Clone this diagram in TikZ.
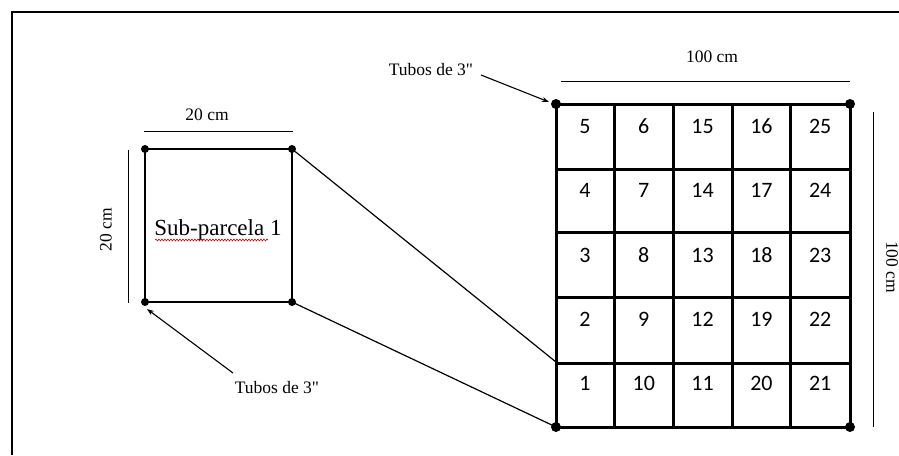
\documentclass[tikz,border=0pt]{standalone}
\usepackage{fontspec}
\setmainfont{Liberation Serif}[Ligatures=TeXOff]
\newfontfamily\cellfont{Carlito}
\usetikzlibrary{arrows.meta,decorations.pathmorphing}
\newcommand\inch{\symbol{34}}
\begin{document}
\begin{tikzpicture}[x=1pt,y=-1pt,
  frame/.style={line width=1.6pt},
  plot/.style={line width=2.8pt},
  gridline/.style={line width=3pt},
  link/.style={line width=1.2pt},
  dimline/.style={line width=0.9pt},
  pointer/.style={line width=1.1pt,-{Stealth[length=7pt,width=5pt]}},
  lbl/.style={font=\fontsize{17.5}{20}\selectfont,inner sep=0pt},
  cellnum/.style={font=\cellfont\fontsize{22}{26}\selectfont,inner sep=0pt,anchor=base},
  pipe/.style={circle,fill=black,inner sep=0pt,minimum size=#1},
  pipe/.default=7pt]
\useasboundingbox (0,0) rectangle (899,455);

% page frame (left and top edges)
\draw[frame] (12,455) -- (12,12) -- (899,12);

% sub-plot square
\coordinate (s-nw) at (145,149);
\coordinate (s-ne) at (292,149);
\coordinate (s-sw) at (145,302);
\coordinate (s-se) at (292,302);
\draw[plot] (s-nw) -- (s-ne) -- (s-se) -- (s-sw) -- cycle;
\foreach \c in {s-nw,s-ne,s-sw,s-se} \node[pipe=8pt] at (\c) {};
\node[font=\fontsize{23}{26}\selectfont,inner sep=0pt,anchor=base] (sublabel) at (218,235) {Sub-parcela 1};
\draw[red!80!black,line width=0.6pt,decorate,decoration={snake,amplitude=0.9pt,segment length=3pt}] (155,240) -- (268,240);

% dimensions of the sub-plot
\coordinate (sd-a) at (144,131);
\coordinate (sd-b) at (293,131);
\draw[dimline] (sd-a) -- (sd-b);
\node[lbl] (sw-label) at (207,115) {20 cm};
\coordinate (sv-a) at (128,150);
\coordinate (sv-b) at (128,303);
\draw[dimline] (sv-a) -- (sv-b);
\node[lbl,rotate=90] (sh-label) at (106,230) {20 cm};

% pipe label below the sub-plot
\node[lbl] (tubos-a) at (277,388) {Tubos de 3\inch};
\coordinate (ta-start) at (233,373);
\coordinate (ta-end) at (147,309);
\draw[pointer] (ta-start) -- (ta-end);

% 5 x 5 grid
\def\xs{{556,614.5,673,732,790.5,850}}
\def\ys{{104,169,232,297,363,427}}
\foreach \i in {0,...,5}{
  \pgfmathsetmacro\xx{\xs[\i]}
  \pgfmathsetmacro\yy{\ys[\i]}
  \draw[gridline] (\xx,104) -- (\xx,427);
  \draw[gridline] (556,\yy) -- (850,\yy);
}
\coordinate (g-nw) at (556,104);
\coordinate (g-ne) at (850,104);
\coordinate (g-sw) at (556,427);
\coordinate (g-se) at (850,427);
\coordinate (g-row) at (556,362);
\foreach \c in {g-nw,g-ne,g-sw,g-se} \node[pipe=10pt] at (\c) {};

% cell numbers, row by row from the top
\foreach \n [count=\k from 0] in {5,6,15,16,25, 4,7,14,17,24, 3,8,13,18,23, 2,9,12,19,22, 1,10,11,20,21}{
  \pgfmathtruncatemacro\col{mod(\k,5)}
  \pgfmathtruncatemacro\row{div(\k,5)}
  \pgfmathsetmacro\cx{585+58.8*\col}
  \pgfmathsetmacro\cy{133.5+64.3*\row}
  \node[cellnum] (cell-\n) at (\cx,\cy) {\n};
}

% enlargement lines from the sub-plot to the grid
\draw[link] (s-ne) -- (g-row);
\draw[link] (s-se) -- (g-sw);

% dimensions of the grid
\coordinate (gd-a) at (561,81);
\coordinate (gd-b) at (850,81);
\draw[dimline] (gd-a) -- (gd-b);
\node[lbl] (gw-label) at (712,57) {100 cm};
\coordinate (gv-a) at (873,112);
\coordinate (gv-b) at (873,427);
\draw[dimline] (gv-a) -- (gv-b);
\node[lbl,rotate=-90] (gh-label) at (892,267) {100 cm};

% pipe label above the grid
\node[lbl] (tubos-b) at (431,70) {Tubos de 3\inch};
\coordinate (tb-start) at (481,75);
\coordinate (tb-end) at (549,102);
\draw[pointer] (tb-start) -- (tb-end);
\end{tikzpicture}
\end{document}
